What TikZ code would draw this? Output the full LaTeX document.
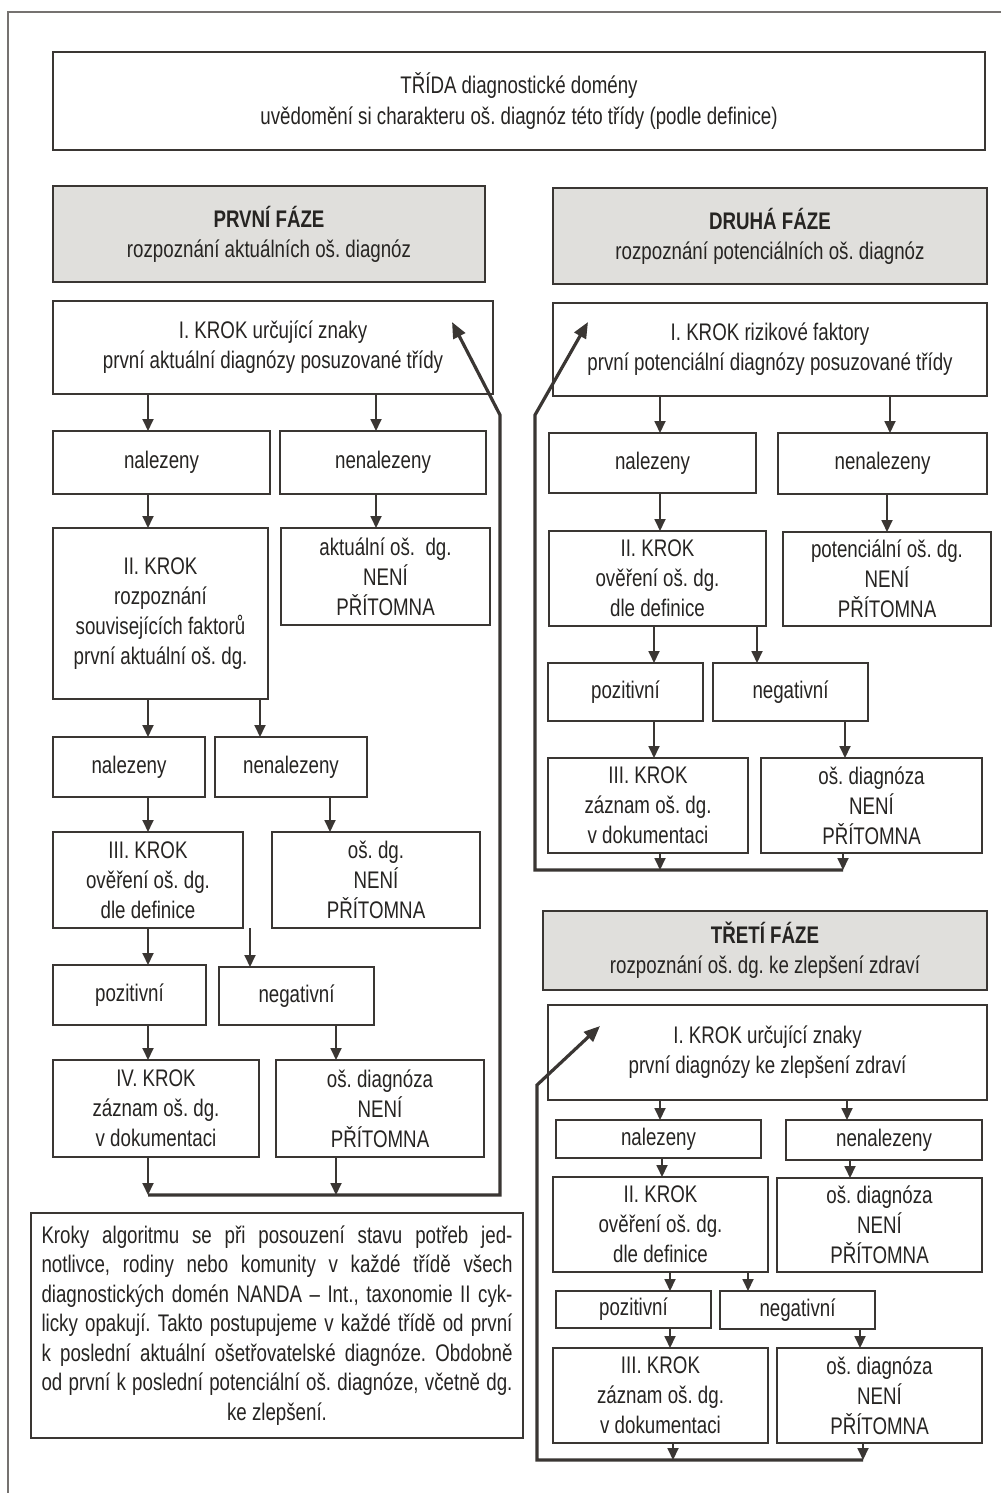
\documentclass[tikz,border=0pt]{standalone}
\usepackage{fontspec}
\setmainfont[FakeStretch=0.78]{Liberation Sans}
\usetikzlibrary{arrows.meta}
\definecolor{ink}{HTML}{3A3633}
\definecolor{txt}{HTML}{262422}
\definecolor{phase}{HTML}{E0DFDC}
\newcommand\bx[7]{\node[#1, minimum width={(#5)*0.5pt-(#3)*0.5pt}, minimum height={(#6)*0.5pt-(#4)*0.5pt}] (#2) at ({(#3+#5)/2},{(#4+#6)/2}) {#7};}
\newcommand\ar[3]{\draw[arr] (#1.south -| #3,0) -- (#2.north -| #3,0);}
\newcommand\arc[3]{\draw[arr] (#1.south -| #3,0) -- (#2);}
\frenchspacing
\begin{document}
\begin{tikzpicture}[x=0.5pt,y=-0.5pt,
  box/.style={draw=ink, line width=1pt, inner sep=0pt, outer sep=0pt, align=center,
    font=\fontsize{12}{15}\selectfont, text=txt},
  phasebox/.style={box, fill=phase},
  notebox/.style={box, font=\fontsize{12}{14.75}\selectfont},
  arr/.style={draw=ink, line width=0.9pt, -{Triangle[width=5.5pt,length=6pt]}},
  loopline/.style={draw=ink, line width=1.6pt, -{Triangle[width=6.5pt,length=8pt]}},
  frameline/.style={draw=ink!70, line width=0.7pt}]
\useasboundingbox (0,0) rectangle (1001,1493);
\fill[white] (0,0) rectangle (1001,1493);
\draw[frameline] (1001,12) -- (8,12) -- (8,1493);

% top
\bx{box}{T}{53}{52}{985}{150}{TŘÍDA diagnostické domény\\[0.5pt]uvědomění si charakteru oš. diagnóz této třídy (podle definice)}
% phase headers
\bx{phasebox}{P1}{53}{186}{485}{282}{\textbf{PRVNÍ FÁZE}\\rozpoznání aktuálních oš. diagnóz}
\bx{phasebox}{P2}{553}{188}{987}{284}{\textbf{DRUHÁ FÁZE}\\rozpoznání potenciálních oš. diagnóz}
\bx{phasebox}{P3}{543}{911}{987}{990}{\textbf{TŘETÍ FÁZE}\\rozpoznání oš. dg. ke zlepšení zdraví}

% left column
\bx{box}{A1}{53}{301}{493}{394}{I. KROK určující znaky\\první aktuální diagnózy posuzované třídy}
\bx{box}{A2}{53}{431}{270}{494}{nalezeny}
\bx{box}{A3}{280}{431}{486}{494}{nenalezeny}
\bx{box}{A4}{53}{528}{268}{699}{II. KROK\\rozpoznání\\souvisejících faktorů\\první aktuální oš. dg.}
\bx{box}{A5}{281}{528}{490}{625}{aktuální oš.\ \ dg.\\NENÍ\\PŘÍTOMNA}
\bx{box}{A6}{53}{737}{205}{797}{nalezeny}
\bx{box}{A7}{215}{737}{367}{797}{nenalezeny}
\bx{box}{A8}{53}{832}{243}{928}{III. KROK\\ověření oš. dg.\\dle definice}
\bx{box}{A9}{272}{832}{480}{928}{oš. dg.\\NENÍ\\PŘÍTOMNA}
\bx{box}{A10}{53}{965}{206}{1025}{pozitivní}
\bx{box}{A11}{219}{967}{374}{1025}{negativní}
\bx{box}{A12}{53}{1060}{259}{1157}{IV. KROK\\záznam oš. dg.\\v dokumentaci}
\bx{box}{A13}{276}{1060}{484}{1157}{oš. diagnóza\\NENÍ\\PŘÍTOMNA}

\ar{A1}{A2}{148}
\ar{A1}{A3}{376}
\ar{A2}{A4}{148}
\ar{A3}{A5}{376}
\ar{A4}{A6}{148}
\ar{A4}{A7}{260}
\ar{A6}{A8}{148}
\ar{A7}{A9}{330}
\ar{A8}{A10}{148}
\ar{A8}{A11}{250}
\ar{A10}{A12}{148}
\ar{A11}{A13}{336}
\coordinate (LA1) at (148,1195);
\coordinate (LA2) at (336,1195);
\coordinate (LA3) at (500,1195);
\coordinate (LA4) at (500,415);
\coordinate (LAtip) at (452,322);
\arc{A12}{LA1}{148}
\arc{A13}{LA2}{336}
\draw[loopline] (LA1) -- (LA3) -- (LA4) -- (LAtip);

% right column
\bx{box}{B1}{553}{303}{987}{396}{I. KROK rizikové faktory\\první potenciální diagnózy posuzované třídy}
\bx{box}{B2}{549}{433}{756}{493}{nalezeny}
\bx{box}{B3}{778}{433}{987}{494}{nenalezeny}
\bx{box}{B4}{549}{531}{766}{626}{II. KROK\\ověření oš. dg.\\dle definice}
\bx{box}{B5}{783}{532}{991}{626}{potenciální oš. dg.\\NENÍ\\PŘÍTOMNA}
\bx{box}{B6}{548}{663}{703}{721}{pozitivní}
\bx{box}{B7}{713}{663}{868}{721}{negativní}
\bx{box}{B8}{548}{758}{748}{853}{III. KROK\\záznam oš. dg.\\v dokumentaci}
\bx{box}{B9}{761}{758}{982}{853}{oš. diagnóza\\NENÍ\\PŘÍTOMNA}

\ar{B1}{B2}{660}
\ar{B1}{B3}{890}
\ar{B2}{B4}{660}
\ar{B3}{B5}{887}
\ar{B4}{B6}{654}
\ar{B4}{B7}{757}
\ar{B6}{B8}{654}
\ar{B7}{B9}{845}
\coordinate (LB1) at (660,870);
\coordinate (LB2) at (843,870);
\coordinate (LB3) at (535,870);
\coordinate (LB4) at (535,415);
\coordinate (LBtip) at (588,322);
\arc{B8}{LB1}{660}
\arc{B9}{LB2}{843}
\draw[loopline] (LB2) -- (LB3) -- (LB4) -- (LBtip);

% third phase
\bx{box}{C1}{548}{1005}{987}{1100}{I. KROK určující znaky\\první diagnózy ke zlepšení zdraví}
\bx{box}{C2}{556}{1120}{761}{1158}{nalezeny}
\bx{box}{C3}{786}{1120}{982}{1160}{nenalezeny}
\bx{box}{C4}{553}{1177}{768}{1272}{II. KROK\\ověření oš. dg.\\dle definice}
\bx{box}{C5}{777}{1178}{982}{1272}{oš. diagnóza\\NENÍ\\PŘÍTOMNA}
\bx{box}{C6}{556}{1291}{711}{1328}{pozitivní}
\bx{box}{C7}{720}{1291}{875}{1329}{negativní}
\bx{box}{C8}{553}{1348}{768}{1443}{III. KROK\\záznam oš. dg.\\v dokumentaci}
\bx{box}{C9}{777}{1348}{982}{1443}{oš. diagnóza\\NENÍ\\PŘÍTOMNA}

\ar{C1}{C2}{660}
\ar{C1}{C3}{847}
\ar{C2}{C4}{662}
\ar{C3}{C5}{850}
\ar{C4}{C6}{670}
\ar{C4}{C7}{748}
\ar{C6}{C8}{670}
\ar{C7}{C9}{860}
\coordinate (LC1) at (673,1460);
\coordinate (LC2) at (863,1460);
\coordinate (LC3) at (537,1460);
\coordinate (LC4) at (537,1085);
\coordinate (LCtip) at (600,1026);
\arc{C8}{LC1}{673}
\arc{C9}{LC2}{863}
\draw[loopline] (LC2) -- (LC3) -- (LC4) -- (LCtip);

% note
\bx{notebox}{N}{31}{1213}{523}{1438}{%
\makebox[235.5pt][s]{Kroky algoritmu se při posouzení stavu potřeb jed-}\\
\makebox[235.5pt][s]{notlivce, rodiny nebo komunity v každé třídě všech}\\
\makebox[235.5pt][s]{diagnostických domén NANDA – Int., taxonomie II cyk-}\\
\makebox[235.5pt][s]{licky opakují. Takto postupujeme v každé třídě od první}\\
\makebox[235.5pt][s]{k poslední aktuální ošetřovatelské diagnóze. Obdobně}\\
\makebox[235.5pt][s]{od první k poslední potenciální oš. diagnóze, včetně dg.}\\
ke zlepšení.}
\end{tikzpicture}
\end{document}
